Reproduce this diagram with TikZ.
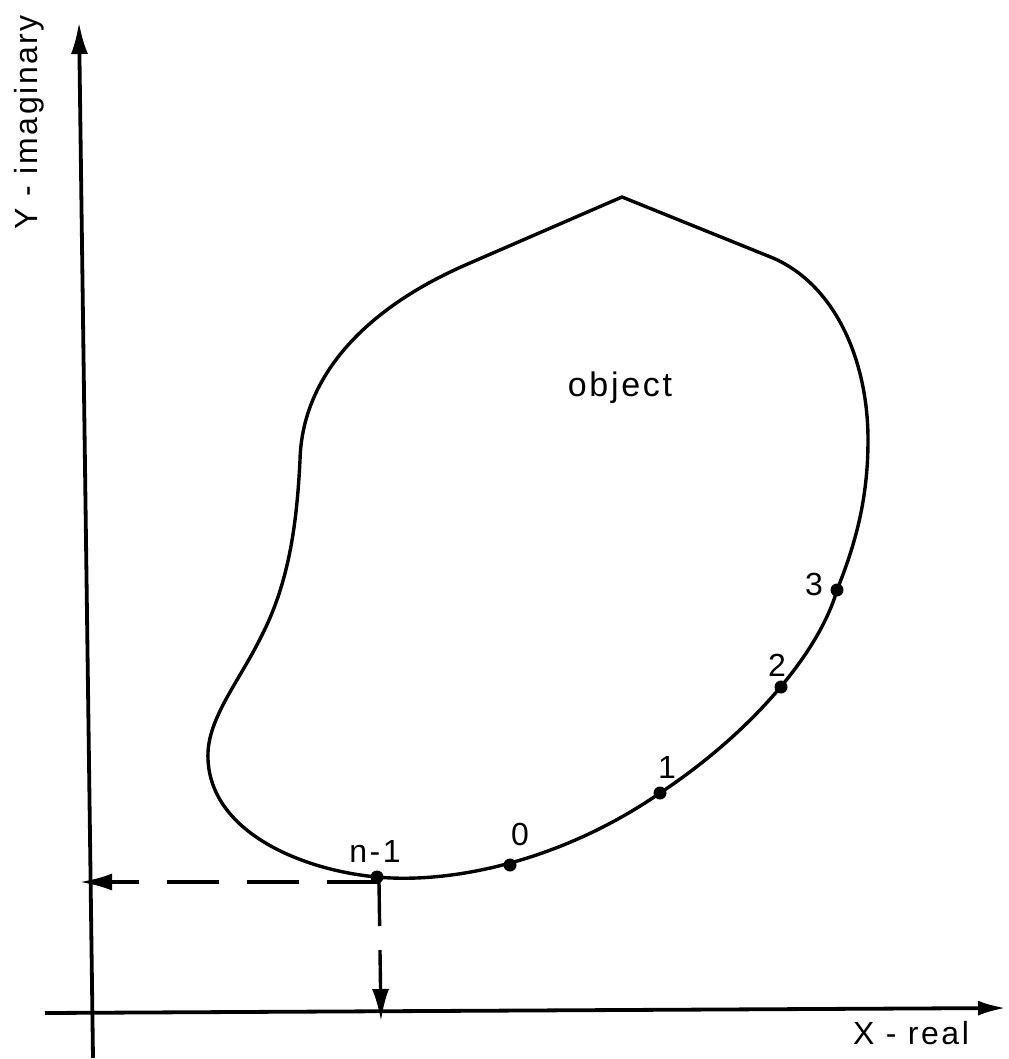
\documentclass[tikz,border=0pt]{standalone}
\usepackage{fontspec}
\newfontfamily\plotfont[LetterSpace=8]{Liberation Sans}
\usetikzlibrary{arrows.meta}
\begin{document}
\begin{tikzpicture}[x=0.5pt,y=-0.5pt,
  axis/.style={line width=1.9pt,-{Latex[length=16pt,width=8.5pt]}},
  outline/.style={line width=1.7pt,line join=round},
  dashline/.style={line width=1.7pt,dash pattern=on 26pt off 14pt,-{Latex[length=16pt,width=8.5pt]}},
  dot/.style={circle,fill=black,inner sep=0pt,minimum size=6.5pt},
  lab/.style={font=\plotfont\fontsize{16}{18}\selectfont,inner sep=0pt}]
\useasboundingbox (0,0) rectangle (1008,1059);
% axes
\coordinate (yb) at (93,1058);
\coordinate (yt) at (79,22);
\coordinate (xl) at (45,1013);
\coordinate (xr) at (1006,1008);
\draw[axis] (yb) -- (yt);
\draw[axis,-{Latex[length=14pt,width=7.5pt]}] (xl) -- (xr);
\node[lab,rotate=90] (ylab) at (29,122) {Y - imaginary};
\node[lab] (xlab) at (911,1033) {X - real};
% object outline
\draw[outline] (622,197) -- (773,258)
  .. controls (835,285) and (868,360) .. (868,440)
  .. controls (868,500) and (855,545) .. (837,590)
  .. controls (820,650) and (755,730) .. (660,793)
  .. controls (560,862) and (450,884) .. (377,877)
  .. controls (300,870) and (205,830) .. (208,752)
  .. controls (210,715) and (240,680) .. (262,635)
  .. controls (290,580) and (297,520) .. (300,460)
  .. controls (302,380) and (360,310) .. (470,263)
  -- cycle;
\node[lab,font=\plotfont\fontsize{17}{19}\selectfont] (obj) at (620,388) {object};
% boundary points
\node[dot] (pn) at (377,877) {};
\node[dot] (p0) at (510,865) {};
\node[dot] (p1) at (660,793) {};
\node[dot] (p2) at (781,687) {};
\node[dot] (p3) at (837,590) {};
\node[lab] (ln) at (375,851) {n-1};
\node[lab] (l0) at (520,834) {0};
\node[lab] (l1) at (667,767) {1};
\node[lab] (l2) at (777,665) {2};
\node[lab] (l3) at (814,584) {3};
% projections
\coordinate (ds) at (379,882);
\coordinate (hx) at (80,882);
\coordinate (vx) at (381,1021);
\draw[dashline] (ds) -- (hx);
\draw[dashline,dash pattern=on 22pt off 12pt] (ds) -- (vx);
\end{tikzpicture}
\end{document}
